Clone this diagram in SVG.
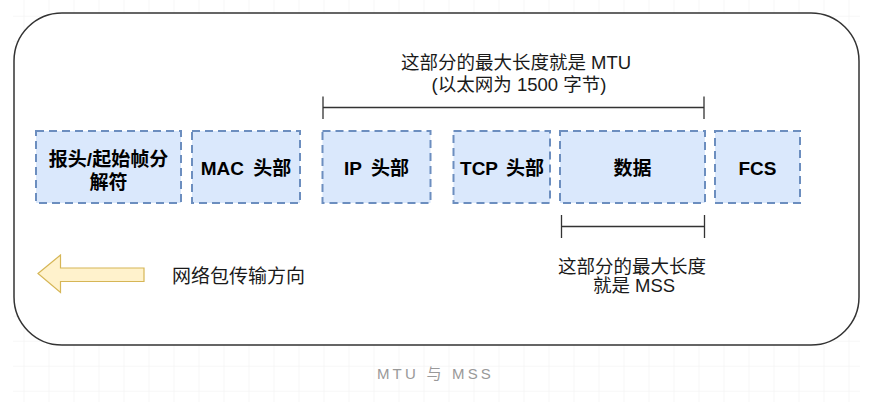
<svg xmlns="http://www.w3.org/2000/svg" width="877" height="402" viewBox="0 0 877 402">
<defs>
<pattern id="grid" x="-0.5" y="-8.3" width="25" height="25" patternUnits="userSpaceOnUse">
<path d="M25 0 V25 M0 25 H25" fill="none" stroke="#efefef" stroke-width="1"/>
</pattern>
</defs>
<style>
.box{fill:#dae8fc;stroke:#6c8ebf;stroke-width:2;stroke-dasharray:8 5}
.bt{font-family:"Liberation Sans","Noto Sans CJK SC",sans-serif;font-size:19px;font-weight:bold;fill:#000;text-anchor:middle;dominant-baseline:central}
.lt{font-family:"Liberation Sans","Noto Sans CJK SC",sans-serif;font-size:18.5px;fill:#1a1a1a;text-anchor:middle;dominant-baseline:central}
.br{stroke:#333;stroke-width:1.3;fill:none}
</style>
<rect x="13" y="0" width="847" height="402" fill="url(#grid)"/>
<rect id="frame" x="14" y="13" width="845" height="332" rx="48" ry="48" fill="#fff" stroke="#333" stroke-width="1.5"/>
<g id="n1"><rect class="box" x="36" y="131" width="145" height="72"/><text class="bt" x="108.5" y="159">报头/起始帧分</text><text class="bt" x="108.5" y="182">解符</text></g>
<g id="n2"><rect class="box" x="192" y="131" width="108" height="72"/><text class="bt" x="246" y="168" word-spacing="4">MAC 头部</text></g>
<g id="n3"><rect class="box" x="322.5" y="131" width="108" height="72"/><text class="bt" x="376.5" y="168" word-spacing="4">IP 头部</text></g>
<g id="n4"><rect class="box" x="453.5" y="131" width="96.5" height="72"/><text class="bt" x="502" y="168" word-spacing="3">TCP 头部</text></g>
<g id="n5"><rect class="box" x="560" y="131" width="145" height="72"/><text class="bt" x="632.5" y="168">数据</text></g>
<g id="n6"><rect class="box" x="715" y="131" width="85" height="72"/><text class="bt" x="757.5" y="168">FCS</text></g>
<g id="connectors">
<path class="br" d="M323 96.5 V119 M323 107.5 H704 M704 96.5 V119"/>
<path class="br" d="M561.5 215 V238 M561.5 226.5 H704.5 M704.5 215 V238"/>
</g>
<g id="mtu-label"><text class="lt" x="516" y="62">这部分的最大长度就是 MTU</text><text class="lt" x="519" y="84">(以太网为 1500 字节)</text></g>
<g id="mss-label"><text class="lt" x="632" y="266">这部分的最大长度</text><text class="lt" x="634" y="285">就是 MSS</text></g>
<g id="direction">
<path d="M38 273.5 L60.5 255 V268 H144 V281.5 H60.5 V292.5 Z" fill="#fff2cc" stroke="#d6b656" stroke-width="1.2"/>
<text class="lt" x="172" y="276" style="text-anchor:start;font-size:19px">网络包传输方向</text>
</g>
<text x="435.5" y="378.5" font-family="'Liberation Sans','Noto Sans CJK SC',sans-serif" font-size="15" fill="#999" text-anchor="middle" letter-spacing="3.2">MTU 与 MSS</text>
</svg>
